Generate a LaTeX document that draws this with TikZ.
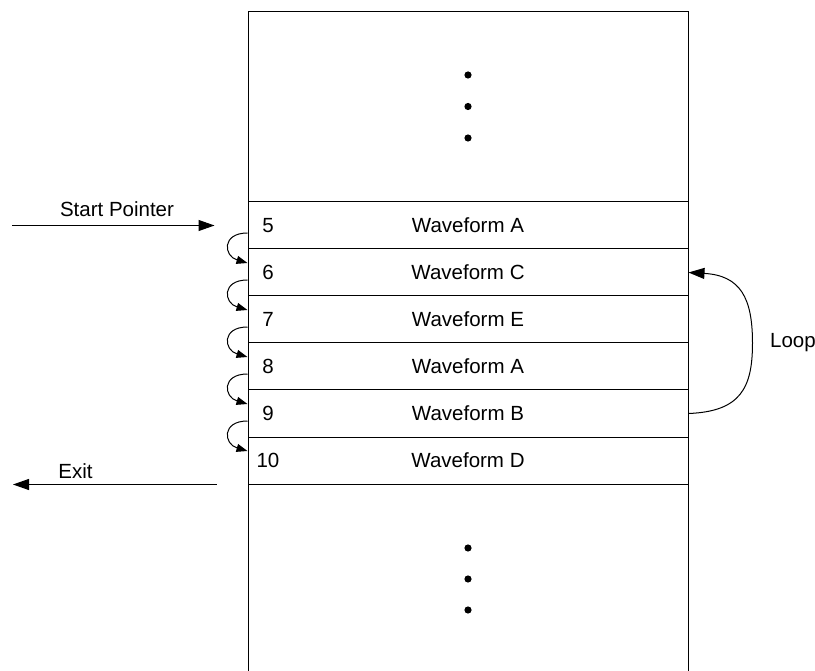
\documentclass[tikz,border=0pt]{standalone}
\usepackage{fontspec}
\setmainfont{Liberation Sans}
\usetikzlibrary{arrows.meta,calc}
\begin{document}
\begin{tikzpicture}[x=1pt,y=-1pt,
  every node/.style={font=\fontsize{20.5}{24}\selectfont, inner sep=0pt},
  rowbox/.style={draw, line width=1pt, minimum width=440pt, minimum height=47pt, anchor=center},
  numlbl/.style={anchor=center},
  wavelbl/.style={anchor=center},
  bigarrow/.style={line width=1pt, -{Triangle[length=16pt,width=11pt]}},
  smallarrow/.style={line width=1pt, -{Triangle[length=11pt,width=8pt]}},
  dotmark/.style={fill=black, draw=none}
]
\useasboundingbox (0,0) rectangle (815,671);
% outer memory column
\draw[line width=1pt] (248,671) -- (248,12) -- (688,12) -- (688,671);
% rows
\node[rowbox] (r5)  at (468,225.5) {};
\node[rowbox] (r6)  at (468,272.5) {};
\node[rowbox] (r7)  at (468,319.5) {};
\node[rowbox] (r8)  at (468,366.5) {};
\node[rowbox] (r9)  at (468,413.5) {};
\node[rowbox] (r10) at (468,460.5) {};
% numbers
\node[numlbl] (n5)  at (268,225.5) {5};
\node[numlbl] (n6)  at (268,272.5) {6};
\node[numlbl] (n7)  at (268,319.5) {7};
\node[numlbl] (n8)  at (268,366.5) {8};
\node[numlbl] (n9)  at (268,413.5) {9};
\node[numlbl] (n10) at (268,460.5) {10};
% waveform labels
\node[wavelbl] (w5)  at (468,225.5) {Waveform A};
\node[wavelbl] (w6)  at (468,272.5) {Waveform C};
\node[wavelbl] (w7)  at (468,319.5) {Waveform E};
\node[wavelbl] (w8)  at (468,366.5) {Waveform A};
\node[wavelbl] (w9)  at (468,413.5) {Waveform B};
\node[wavelbl] (w10) at (468,460.5) {Waveform D};
% dots
\foreach \yy in {75,106.5,138,548,579,610}
  \fill[dotmark] (468,\yy) circle (3.6pt);
% start pointer
\coordinate (sps) at (12,225.5);
\coordinate (spe) at ($(r5.west)+(-33,0)$);
\draw[bigarrow] (sps) -- (spe);
\node (splbl) at (117,209) {Start Pointer};
% exit
\coordinate (exs) at ($(r10.south west)+(-31,0)$);
\coordinate (exe) at (13,484.5);
\draw[bigarrow] (exs) -- (exe);
\node (exlbl) at (75.5,471) {Exit};
% small step arrows
\foreach \a/\b in {r5/r6,r6/r7,r7/r8,r8/r9,r9/r10}
  \draw[smallarrow] ($(\a.west)+(0,7.5)$) .. controls +(-26,0) and +(-24,-7) .. ($(\b.west)+(0,-9.5)$);
% loop
\coordinate (lm) at ($($(r9.east)!0.5!(r6.east)$)+(64,0)$);
\draw[bigarrow] (r9.east) .. controls +(52,-2) and +(0,45) .. (lm) .. controls +(0,-45) and +(52,3) .. (r6.east);
\node (looplbl) at (793,343) {Loop};
\end{tikzpicture}
\end{document}
